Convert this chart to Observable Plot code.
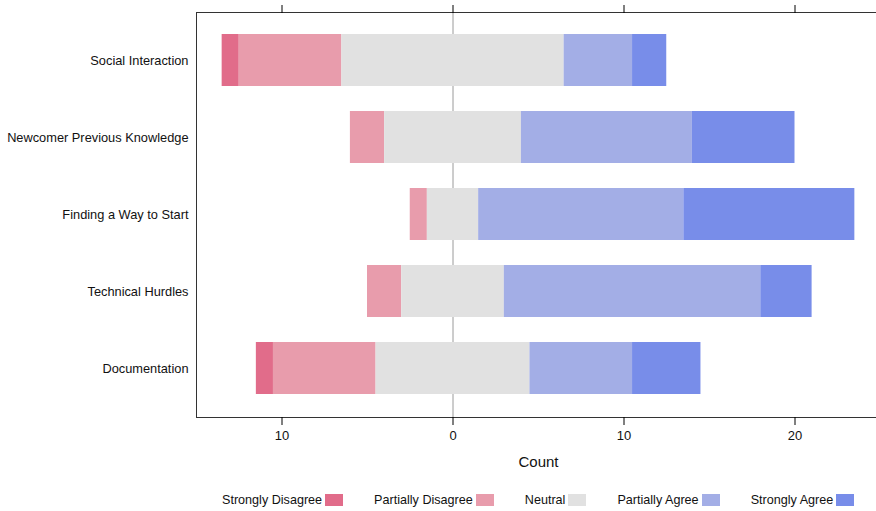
<!DOCTYPE html>
<html>
<head>
<meta charset="utf-8">
<script src="https://cdn.jsdelivr.net/npm/d3@7"></script>
<script src="https://cdn.jsdelivr.net/npm/@observablehq/plot@0.6"></script>
<style>
  html, body { margin: 0; padding: 0; background: white; overflow: hidden; }
  body { width: 876px; height: 511px; position: relative; font-family: "Liberation Sans", Arial, sans-serif; }
  #chart { width: 876px; overflow: hidden; }
  #chart svg { display: block; max-width: none !important; }
  #legend { position: absolute; top: 493px; left: 222px; display: flex; justify-content: flex-start; gap: 31px; font-size: 12.6px; color: #111; white-space: nowrap; }
  .item { display: flex; align-items: center; }
  .box { display: inline-block; width: 18px; height: 12px; margin-left: 3px; }
</style>
</head>
<body>
<div id="chart"></div>
<div id="legend"></div>
<script>
const categories = ["Social Interaction", "Newcomer Previous Knowledge", "Finding a Way to Start", "Technical Hurdles", "Documentation"];
const levels = ["Strongly Disagree", "Partially Disagree", "Neutral", "Partially Agree", "Strongly Agree"];
const stronglyDisagree = [1, 0, 0, 0, 1];
const partiallyDisagree = [6, 2, 1, 2, 6];
const neutral = [13, 8, 3, 6, 9];
const partiallyAgree = [4, 10, 12, 15, 6];
const stronglyAgree = [2, 6, 10, 3, 4];
const colors = ["#E16C8A", "#E89CAC", "#E1E1E1", "#A3AEE6", "#788DE9"];
const xTicks = [-10, 0, 10, 20];

const segments = [];
categories.forEach((c, i) => {
  const h = neutral[i] / 2;
  const pd = partiallyDisagree[i], sd = stronglyDisagree[i];
  const pa = partiallyAgree[i], sa = stronglyAgree[i];
  segments.push({category: c, level: levels[0], x1: -(h + pd + sd), x2: -(h + pd)});
  segments.push({category: c, level: levels[1], x1: -(h + pd), x2: -h});
  segments.push({category: c, level: levels[2], x1: -h, x2: h});
  segments.push({category: c, level: levels[3], x1: h, x2: h + pa});
  segments.push({category: c, level: levels[4], x1: h + pa, x2: h + pa + sa});
});

const chart = Plot.plot({
  width: 880,
  height: 475,
  marginLeft: 196,
  marginRight: 0,
  marginTop: 12,
  marginBottom: 58,
  style: {fontFamily: "'Liberation Sans', Arial, sans-serif", fontSize: "12.8px", color: "#111", background: "white", maxWidth: "none"},
  x: {domain: [-15, 25]},
  y: {domain: categories, paddingInner: 0.32, paddingOuter: 0.26, label: null},
  color: {domain: levels, range: colors},
  marks: [
    Plot.ruleX([0], {stroke: "#9a9a9a", strokeWidth: 1}),
    Plot.barX(segments.filter(d => d.x2 > d.x1), {y: "category", x1: "x1", x2: "x2", fill: "level"}),
    Plot.frame({stroke: "#333"}),
    Plot.axisX({anchor: "bottom", ticks: xTicks, tickFormat: d => Math.abs(d), tickSize: 8, tickPadding: 5, label: null, stroke: "#000", fontSize: 13}),
    Plot.axisX({anchor: "top", ticks: xTicks, tickFormat: () => "", tickSize: 8, label: null, stroke: "#000"}),
    Plot.axisY({anchor: "left", tickSize: 0, tickPadding: 8, label: null}),
    Plot.text(["Count"], {frameAnchor: "bottom", dy: 49, fontSize: 15, fill: "#111"})
  ]
});
document.getElementById("chart").appendChild(chart);

const legend = document.getElementById("legend");
levels.forEach((l, i) => {
  const item = document.createElement("div");
  item.className = "item";
  const t = document.createElement("span");
  t.textContent = l;
  const b = document.createElement("span");
  b.className = "box";
  b.style.background = colors[i];
  item.appendChild(t);
  item.appendChild(b);
  legend.appendChild(item);
});
</script>
</body>
</html>
